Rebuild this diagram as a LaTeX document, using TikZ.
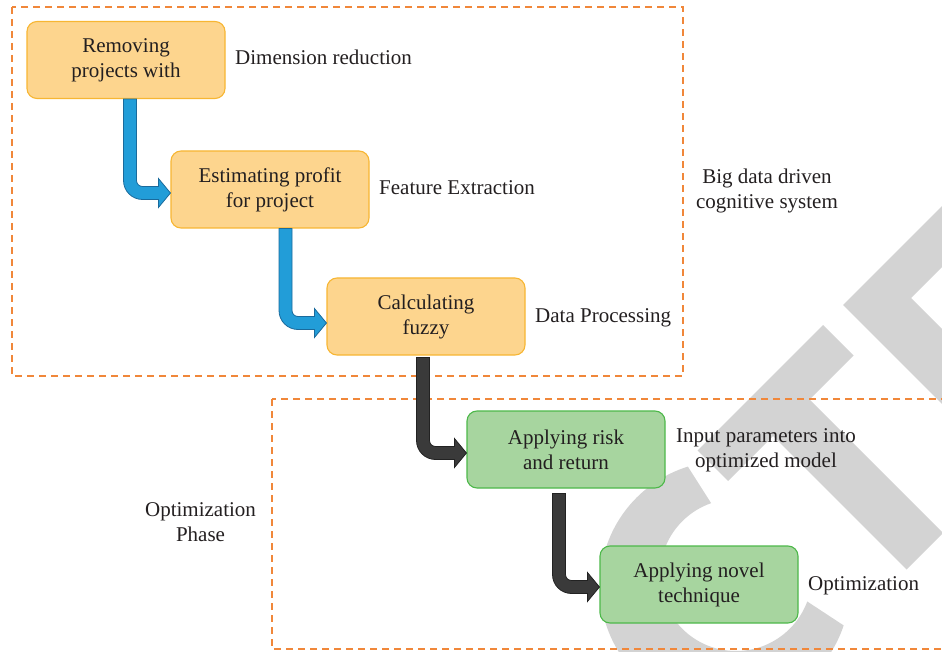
\documentclass[tikz,border=0pt]{standalone}
\usepackage{fontspec}
\setmainfont{Liberation Serif}
\usetikzlibrary{calc}
\definecolor{boxO}{HTML}{FDD58E}
\definecolor{boxOd}{HTML}{F7B633}
\definecolor{boxG}{HTML}{A7D59F}
\definecolor{boxGd}{HTML}{4DB84A}
\definecolor{dashO}{HTML}{F0873A}
\definecolor{txt}{HTML}{231F20}
\definecolor{arrB}{HTML}{229DD8}
\definecolor{arrBd}{HTML}{1A6A9C}
\definecolor{arrK}{HTML}{3A3A3A}
\definecolor{arrKd}{HTML}{222222}
\definecolor{wm}{HTML}{D3D3D3}
% fat bent arrow: #1 style, #2 start (top), #3 tip
\newcommand\fatarrow[3]{%
  \path[#1] let \p1=#2, \p2=#3 in
    (\x1-6.5pt,\y1) -- (\x1-6.5pt,\y2-6.5pt+19pt)
    arc[start angle=180,end angle=270,radius=19pt]
    -- (\x2-12pt,\y2-6.5pt) -- (\x2-12pt,\y2-14.5pt) -- (\x2,\y2)
    -- (\x2-12pt,\y2+14.5pt) -- (\x2-12pt,\y2+6.5pt)
    -- (\x1+12.5pt,\y2+6.5pt)
    arc[start angle=270,end angle=180,radius=6pt]
    -- (\x1+6.5pt,\y1) -- cycle;}
\begin{document}
\begin{tikzpicture}[x=1pt,y=-1pt,
  txtfont/.style={font=\fontsize{21}{25}\selectfont},
  box/.style={rounded corners=10pt, minimum width=198pt, minimum height=77pt,
    align=center, line width=1.1pt, text=txt, txtfont, inner sep=0pt},
  obox/.style={box, fill=boxO, draw=boxOd},
  gbox/.style={box, fill=boxG, draw=boxGd},
  lbl/.style={text=txt, txtfont, inner sep=0pt, align=center},
  grp/.style={draw=dashO, line width=1.1pt, dash pattern=on 7pt off 5pt},
  barrow/.style={fill=arrB, draw=arrBd, line width=0.8pt},
  karrow/.style={fill=arrK, draw=arrKd, line width=0.8pt},
  wmark/.style={fill=wm}]
\useasboundingbox (0,0) rectangle (942,652);
\clip (0,0) rectangle (942,652);
% watermark
\fill[wmark] (697.5,450.5) -- (823,325) -- (853.5,355.5) -- (809.5,399.5)
  -- (943,533) -- (906.5,569.5) -- (773,436) -- (728,481) -- cycle;
\fill[wmark] (843,305) -- (1024,124) -- (1054.5,154.5) -- (911,298)
  -- (1156.5,543.5) -- (1119,581) -- cycle;
\begin{scope}
  \clip (749.6,563.6) -- (627,371) -- (400,371) -- (400,900) -- (1100,900)
    -- (1053,763) -- cycle;
  \fill[wmark, even odd rule] (725,586) circle[radius=125] (736,575) circle[radius=76];
\end{scope}
% groups
\draw[grp] (12,7) rectangle (683,376);
\draw[grp] (272,399) rectangle (960,649);
% boxes
\node[obox] (b1) at (126,60) {Removing\\projects with};
\node[obox] (b2) at (270,189.5) {Estimating profit\\for project};
\node[obox] (b3) at (426,316.5) {Calculating\\fuzzy};
\node[gbox] (b4) at (566,449.5) {Applying risk\\and return};
\node[gbox] (b5) at (699,584.5) {Applying novel\\technique};
% labels
\node[lbl, anchor=base west] (l1) at (235,65) {Dimension reduction};
\node[lbl, anchor=base west] (l2) at (379,195) {Feature Extraction};
\node[lbl, anchor=base west] (l3) at (535,322) {Data Processing};
\node[lbl] (l4) at (767,191) {Big data driven\\cognitive system};
\node[lbl] (l5) at (766,450) {Input parameters into\\optimized model};
\node[lbl, anchor=base west] (l6) at (808,590) {Optimization};
\node[lbl] (l7) at (200.5,522) {Optimization\\Phase};
% arrows
\fatarrow{barrow}{([xshift=4pt]b1.south)}{([yshift=-3.5pt]b2.west)}
\fatarrow{barrow}{([xshift=15.5pt]b2.south)}{([yshift=-6.5pt]b3.west)}
\fatarrow{karrow}{([xshift=-3pt,yshift=-2pt]b3.south)}{([yshift=-3.5pt]b4.west)}
\fatarrow{karrow}{([xshift=-7pt,yshift=-5pt]b4.south)}{([yshift=-2.5pt]b5.west)}
\end{tikzpicture}
\end{document}
